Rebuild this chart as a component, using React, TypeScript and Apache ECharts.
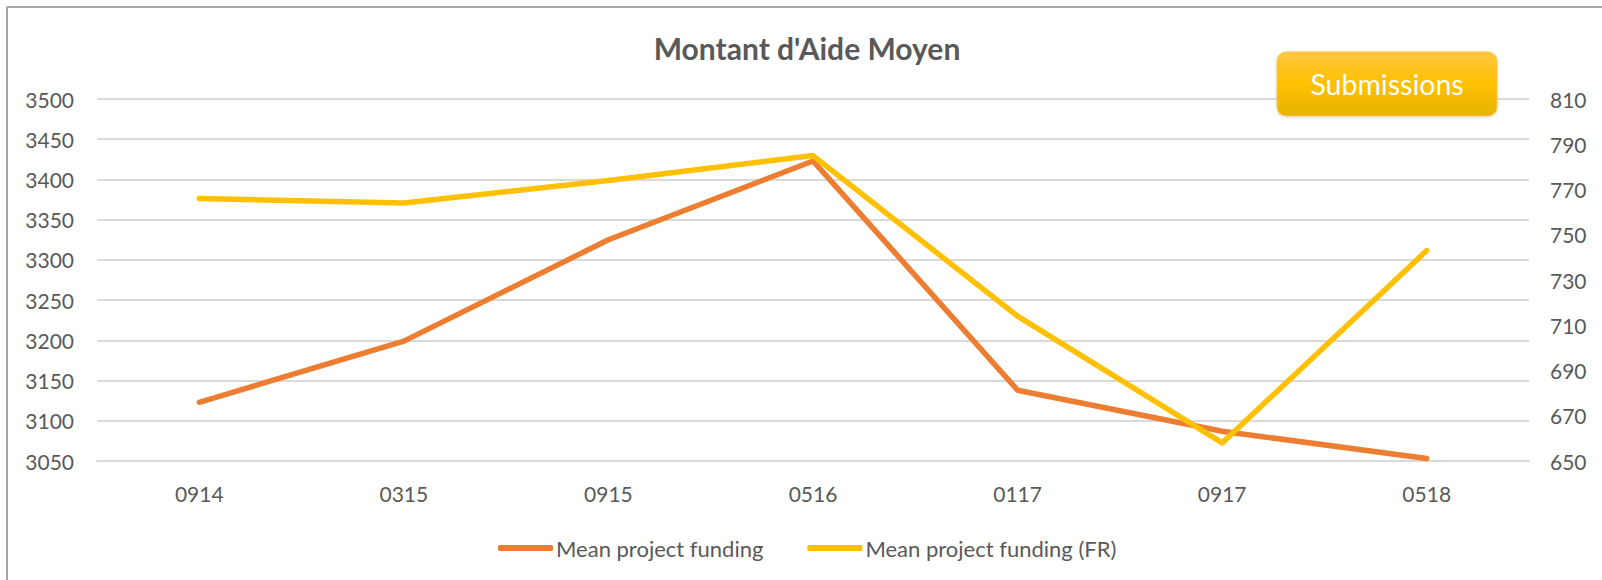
import React, { useEffect, useRef } from "react";
import * as echarts from "echarts";

const categories = ["0914", "0315", "0915", "0516", "0117", "0917", "0518"];
const meanFunding = [3123, 3199, 3325, 3423, 3138, 3087, 3053];
const meanFundingFR = [766, 764, 774, 785, 714, 658, 743];
const rightTicks = [650, 670, 690, 710, 730, 750, 770, 790, 810];
const seriesNames = ["Mean project funding", "Mean project funding (FR)"];
const titleText = "Montant d'Aide Moyen";
const buttonText = "Submissions";

const FONT = "Lato, 'Open Sans', sans-serif";
const GREY = "#595959";

export default function App() {
  const ref = useRef<HTMLDivElement>(null);
  useEffect(() => {
    document.body.style.margin = "0";
    const chart = echarts.init(ref.current!, null, { renderer: "svg" });
    chart.setOption({
      animation: false,
      backgroundColor: "#ffffff",
      title: {
        text: titleText,
        left: 807,
        top: 48,
        padding: 0,
        textAlign: "center",
        textVerticalAlign: "middle",
        textStyle: { fontFamily: FONT, fontSize: 30, fontWeight: "bold", color: GREY },
      },
      legend: {
        data: seriesNames,
        left: 493,
        top: 532,
        itemWidth: 55,
        itemHeight: 6,
        itemGap: 44,
        icon: "roundRect",
        textStyle: { fontFamily: FONT, fontSize: 22, color: GREY, padding: [0, 0, 0, -2] },
      },
      grid: { left: 97, right: 73, top: 99, bottom: 119 },
      xAxis: {
        type: "category",
        data: categories,
        boundaryGap: true,
        axisLine: { show: true, lineStyle: { color: "#D9D9D9", width: 2 } },
        axisTick: { show: false },
        axisLabel: { fontFamily: FONT, fontSize: 21, color: GREY, margin: 22 },
      },
      yAxis: [
        {
          type: "value",
          min: 3050,
          max: 3500,
          interval: 50,
          axisLine: { show: false },
          axisTick: { show: false },
          axisLabel: {
            fontFamily: FONT,
            fontSize: 21,
            color: GREY,
            margin: 23,
            formatter: (v: number) => String(v),
          },
          splitLine: { lineStyle: { color: "#D9D9D9", width: 2 } },
        },
        {
          type: "value",
          min: 650,
          max: 810,
          position: "right",
          axisLine: { show: false },
          axisTick: { show: false },
          axisLabel: {
            fontFamily: FONT,
            fontSize: 21,
            color: GREY,
            margin: 21,
            customValues: rightTicks,
            formatter: (v: number) => String(v),
          },
          splitLine: { show: false },
        },
      ],
      series: [
        {
          name: seriesNames[0],
          type: "line",
          yAxisIndex: 0,
          data: meanFunding,
          symbol: "none",
          color: "#ED7D31",
          lineStyle: { width: 5.5, color: "#ED7D31", cap: "round", join: "round" },
        },
        {
          name: seriesNames[1],
          type: "line",
          yAxisIndex: 1,
          data: meanFundingFR,
          symbol: "none",
          color: "#FFC000",
          lineStyle: { width: 5.5, color: "#FFC000", cap: "round", join: "round" },
        },
      ],
      graphic: [
        {
          type: "line",
          shape: { x1: 7, y1: 7, x2: 1602, y2: 7 },
          style: { stroke: "#A6A6A6", lineWidth: 2 },
          z: 100,
        },
        {
          type: "line",
          shape: { x1: 7, y1: 7, x2: 7, y2: 580 },
          style: { stroke: "#A6A6A6", lineWidth: 2 },
          z: 100,
        },
        {
          type: "group",
          z: 100,
          children: [
            {
              type: "rect",
              shape: { x: 1277, y: 52, width: 220, height: 64, r: 9 },
              style: {
                fill: new echarts.graphic.LinearGradient(0, 0, 0, 1, [
                  { offset: 0, color: "#FFC740" },
                  { offset: 0.5, color: "#FFC000" },
                  { offset: 1, color: "#E6B400" },
                ]),
                stroke: "#F7C84A",
                lineWidth: 1,
                shadowBlur: 3,
                shadowColor: "rgba(0,0,0,0.15)",
                shadowOffsetY: 1,
              },
              z: 100,
            },
            {
              type: "text",
              x: 1387,
              y: 84,
              style: {
                text: buttonText,
                fill: "#ffffff",
                font: "28.5px Lato, 'Open Sans', sans-serif",
                textAlign: "center",
                textVerticalAlign: "middle",
              },
              z: 101,
            },
          ],
        },
      ],
    });
    return () => chart.dispose();
  }, []);
  return <div ref={ref} style={{ width: 1602, height: 580 }} />;
}
